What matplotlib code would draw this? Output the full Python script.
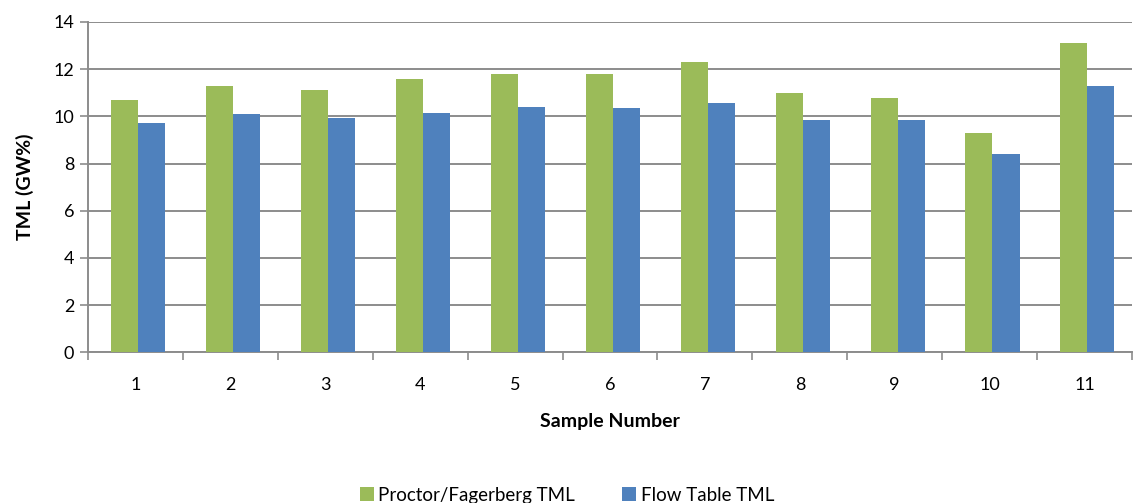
import numpy as np
import matplotlib.pyplot as plt

plt.rcParams["font.family"] = ["Lato", "DejaVu Sans"]

samples = ["1", "2", "3", "4", "5", "6", "7", "8", "9", "10", "11"]
proctor_tml = [10.7, 11.3, 11.1, 11.6, 11.8, 11.8, 12.3, 11.0, 10.8, 9.3, 13.1]
flow_table_tml = [9.7, 10.1, 9.95, 10.15, 10.4, 10.35, 10.55, 9.85, 9.85, 8.4, 11.3]

GREEN = "#9BBB59"
BLUE = "#4F81BD"
GRID = "#8c8c8c"


def main():
    fig = plt.figure(figsize=(11.34, 5.03), dpi=100)
    ax = fig.add_axes([88 / 1134, 1 - 352.4 / 503, (1132 - 88) / 1134, 330.4 / 503])

    x = np.arange(len(samples))
    w = 0.285
    ax.bar(x - w / 2 + 0.03, proctor_tml, w, color=GREEN, label="Proctor/Fagerberg TML", zorder=3)
    ax.bar(x + w / 2 + 0.03, flow_table_tml, w, color=BLUE, label="Flow Table TML", zorder=3)

    ax.set_xlim(-0.5, len(samples) - 0.5)
    ax.set_ylim(0, 14)
    ax.set_yticks(range(0, 15, 2))
    ax.yaxis.grid(True, color=GRID, linewidth=1.4, zorder=0)
    ax.set_axisbelow(True)

    for side in ["top", "right"]:
        ax.spines[side].set_visible(False)
    ax.spines["left"].set_color(GRID)
    ax.spines["left"].set_linewidth(1.4)
    ax.spines["bottom"].set_color(GRID)
    ax.spines["bottom"].set_linewidth(1.4)

    # category labels in the middle, tick marks on the boundaries
    ax.set_xticks(x)
    ax.set_xticklabels(samples)
    ax.tick_params(axis="x", length=0, pad=18, labelsize=13)
    ax.set_xticks(np.arange(-0.5, len(samples), 1), minor=True)
    ax.tick_params(axis="x", which="minor", length=6, color=GRID, width=1.2)
    ax.tick_params(axis="y", length=6, color=GRID, width=1.2, labelsize=13, pad=4)

    ax.set_xlabel("Sample Number", fontsize=14, fontweight="bold", labelpad=14)
    ax.set_ylabel("TML (GW%)", fontsize=14, fontweight="bold", labelpad=14)

    fig.legend(loc="lower center", bbox_to_anchor=(0.5, -0.035), ncol=2, frameon=False,
               fontsize=13.5, handlelength=0.75, handleheight=0.75, handletextpad=0.25,
               columnspacing=2.5)

    fig.savefig("out.png", dpi=100)
    plt.close(fig)


if __name__ == "__main__":
    main()
